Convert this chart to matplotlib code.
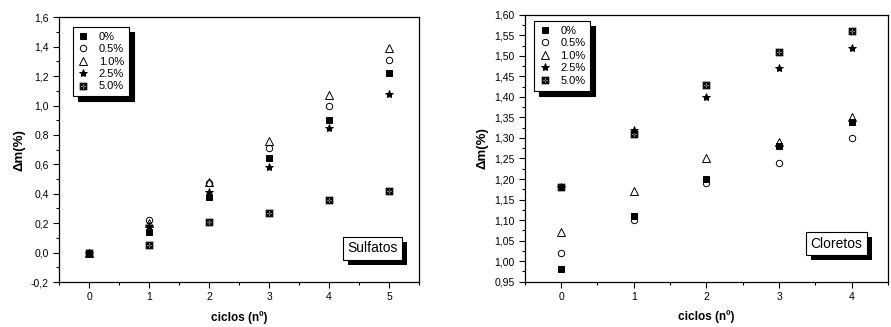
import matplotlib
matplotlib.use("Agg")
import matplotlib.pyplot as plt
import matplotlib.path as mpath
import matplotlib.transforms as mtransforms
from matplotlib.patches import Rectangle
from matplotlib.ticker import MultipleLocator, FuncFormatter

plt.rcParams['font.family'] = ['Liberation Sans', 'DejaVu Sans']

# data
labels = ['0%', '0.5%', '1.0%', '2.5%', '5.0%']

ciclos_sulf = [0, 1, 2, 3, 4, 5]
sulf_0 = [0.0, 0.14, 0.38, 0.64, 0.90, 1.22]
sulf_05 = [0.0, 0.22, 0.47, 0.71, 1.00, 1.31]
sulf_10 = [0.0, 0.20, 0.48, 0.76, 1.07, 1.39]
sulf_25 = [0.0, 0.18, 0.41, 0.58, 0.85, 1.08]
sulf_50 = [0.0, 0.05, 0.21, 0.27, 0.36, 0.42]

ciclos_clor = [0, 1, 2, 3, 4]
clor_0 = [0.98, 1.11, 1.20, 1.28, 1.34]
clor_05 = [1.02, 1.10, 1.19, 1.24, 1.30]
clor_10 = [1.07, 1.17, 1.25, 1.29, 1.35]
clor_25 = [1.18, 1.32, 1.40, 1.47, 1.52]
clor_50 = [1.18, 1.31, 1.43, 1.51, 1.56]

# crossed square with circle marker (Origin style)
sq = mpath.Path([(-1, -1), (1, -1), (1, 1), (-1, 1), (-1, -1)],
                [1, 2, 2, 2, 79])
d1 = mpath.Path([(-1, -1), (1, 1)], [1, 2])
d2 = mpath.Path([(-1, 1), (1, -1)], [1, 2])
circ = mpath.Path.circle((0, 0), 0.75)
xsq = mpath.Path.make_compound_path(sq, d1, d2, circ)

styles = [
    dict(marker='s', mfc='black', mec='black'),
    dict(marker='o', mfc='none', mec='black'),
    dict(marker='^', mfc='none', mec='black'),
    dict(marker='*', mfc='black', mec='black'),
    dict(marker=xsq, mfc='none', mec='black'),
]
sizes = [4.3, 4.6, 5.2, 6.0, 4.8]


def comma_fmt(dec):
    return FuncFormatter(lambda v, p: (('%.' + str(dec) + 'f') % v).replace('.', ','))


boxes = []


def draw_panel(ax, x, series, title, ylim, ymaj, ymin, dec, xmax,
               leg_anchor, box_pos):
    for s, lab, st, ms in zip(series, labels, styles, sizes):
        ax.plot(x, s, linestyle='none', markersize=ms, markeredgewidth=0.7,
                label=lab, **st)
    ax.set_xlim(-0.5, xmax + 0.5)
    ax.set_ylim(*ylim)
    ax.xaxis.set_major_locator(MultipleLocator(1))
    ax.xaxis.set_minor_locator(MultipleLocator(0.5))
    ax.yaxis.set_major_locator(MultipleLocator(ymaj))
    ax.yaxis.set_minor_locator(MultipleLocator(ymin))
    ax.yaxis.set_major_formatter(comma_fmt(dec))
    ax.tick_params(which='both', direction='out', top=False, right=False,
                   labelsize=7.5, width=0.8)
    ax.tick_params(which='major', length=4)
    ax.tick_params(which='minor', length=2.5)
    for sp in ax.spines.values():
        sp.set_linewidth(0.9)
    ax.set_xlabel('ciclos (nº)', fontsize=8.5, fontweight='bold', labelpad=6)
    ax.set_ylabel('Δm(%)', fontsize=9.5, fontweight='bold', labelpad=4)

    leg = ax.legend(loc='upper left', bbox_to_anchor=leg_anchor,
                    borderaxespad=0, fancybox=False, fontsize=8,
                    handlelength=1.0, handletextpad=0.9, labelspacing=0.22,
                    borderpad=0.45, numpoints=1,
                    shadow={'color': 'black', 'alpha': 1, 'ox': 3.6, 'oy': -3.6})
    leg.get_frame().set_edgecolor('black')
    leg.get_frame().set_linewidth(0.8)

    t = ax.text(box_pos[0], box_pos[1], title, transform=ax.transAxes,
                fontsize=10, ha='center', va='center', color='black', zorder=5,
                bbox=dict(boxstyle='square,pad=0.32', fc='white', ec='black',
                          lw=0.8))
    boxes.append((ax, t))


fig = plt.figure(figsize=(8.91, 3.27), dpi=100)
ax1 = fig.add_axes([0.0666, 0.1376, 0.4037, 0.8095])
ax2 = fig.add_axes([0.589, 0.1385, 0.4078, 0.8165])

draw_panel(ax1, ciclos_sulf, [sulf_0, sulf_05, sulf_10, sulf_25, sulf_50],
           'Sulfatos', (-0.2, 1.6), 0.2, 0.1, 1, 5,
           (0.037, 0.9645), (0.870, 0.128))
draw_panel(ax2, ciclos_clor, [clor_0, clor_05, clor_10, clor_25, clor_50],
           'Cloretos', (0.95, 1.60), 0.05, 0.025, 2, 4,
           (0.0256, 0.9775), (0.857, 0.142))

# black drop shadow behind the label boxes
fig.canvas.draw()
for ax, t in boxes:
    bb = t.get_bbox_patch().get_window_extent()
    ax.add_patch(Rectangle((bb.x0 + 5, bb.y0 - 5), bb.width, bb.height,
                           transform=mtransforms.IdentityTransform(),
                           fc='black', ec='none', zorder=4, clip_on=False))

fig.savefig('out.png', dpi=100)
